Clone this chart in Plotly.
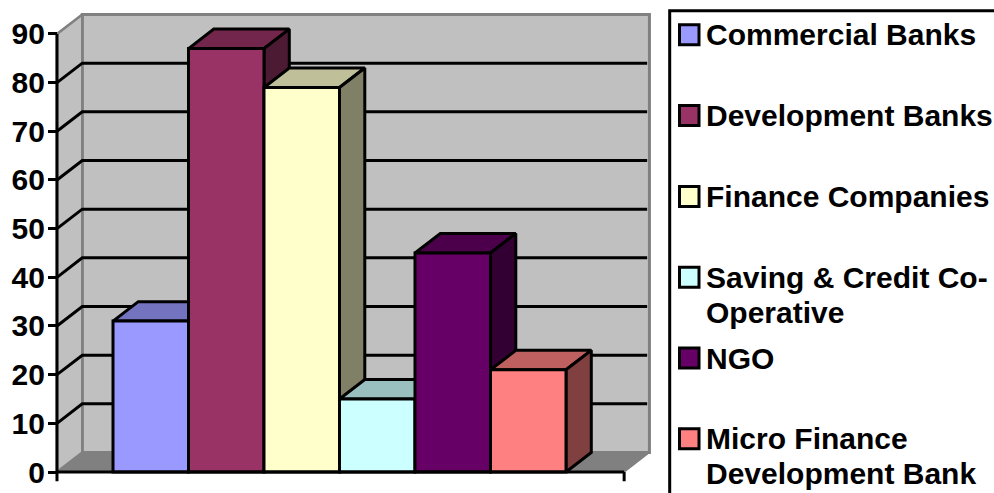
import plotly.graph_objects as go

categories = ["Commercial Banks", "Development Banks", "Finance Companies",
              "Saving & Credit Co-Operative", "NGO", "Micro Finance Development Bank"]
legend_labels = [["Commercial Banks"], ["Development Banks"], ["Finance Companies"],
                 ["Saving & Credit Co-", "Operative"], ["NGO"], ["Micro Finance", "Development Bank"]]
values = [31, 87, 79, 15, 45, 21]
colors = ["#9999FF", "#993366", "#FFFFCC", "#CCFFFF", "#660066", "#FF8080"]
y_ticks = [0, 10, 20, 30, 40, 50, 60, 70, 80, 90]

W, H = 994, 493
PX_X0, PX_XUNIT = 113.0, 75.5     # pixel of bar-slot 0, pixels per slot
PX_Y0, PX_YUNIT = 472.0, 4.867    # pixel of value 0, pixels per value unit
DX, DY = 0.335, 4.0               # 3D depth in axis units
X_L, X_R = -0.742, 6.77           # front floor edge
Y_MAX = 90
FONT = "Liberation Sans"
LW = 3
# plot area in pixels: larger than the drawn chart, so that edge lines are not clipped
AREA_L, AREA_R, AREA_T, AREA_B = 48, 655, 10, 484


def shade(hex_color, k):
    r, g, b = (int(hex_color[i:i + 2], 16) for i in (1, 3, 5))
    return f"rgb({round(r * k)},{round(g * k)},{round(b * k)})"


def poly(xs, ys, fill, line_color="black", width=LW, axis=("x", "y")):
    return go.Scatter(x=xs + xs[:1], y=ys + ys[:1], mode="lines", fill="toself",
                      fillcolor=fill, line=dict(color=line_color, width=width),
                      hoverinfo="skip", showlegend=False, xaxis=axis[0], yaxis=axis[1])


def seg(xs, ys, color="black", width=LW, axis=("x", "y")):
    return go.Scatter(x=xs, y=ys, mode="lines", line=dict(color=color, width=width),
                      hoverinfo="skip", showlegend=False, xaxis=axis[0], yaxis=axis[1])


fig = go.Figure()

# walls and floor
GRAY, WALL = "#808080", "#C0C0C0"
fig.add_trace(poly([X_L + DX, X_R + DX, X_R + DX, X_L + DX], [DY, DY, Y_MAX + DY, Y_MAX + DY], WALL, GRAY, 3))
fig.add_trace(poly([X_L, X_L + DX, X_L + DX, X_L], [0, DY, Y_MAX + DY, Y_MAX], WALL, GRAY, 2.5))
fig.add_trace(poly([X_L, X_R, X_R + DX, X_L + DX], [0, 0, DY, DY], GRAY, GRAY, 1.5))
for t in y_ticks[1:-1]:
    fig.add_trace(seg([X_L, X_L + DX, X_R + DX - 0.03], [t, t + DY, t + DY]))

# bar tops and sides, left to right
for i, (v, c) in enumerate(zip(values, colors)):
    fig.add_trace(poly([i, i + 1, i + 1 + DX, i + DX], [v, v, v + DY, v + DY], shade(c, 0.75)))
    fig.add_trace(poly([i + 1, i + 1 + DX, i + 1 + DX, i + 1], [0, DY, v + DY, v], shade(c, 0.5)))

# front faces on an overlay axis pair, so they cover the faces behind
for i, (name, v, c) in enumerate(zip(categories, values, colors)):
    fig.add_trace(go.Bar(x=[i + 0.5], y=[v], width=[1], name=name,
                         marker=dict(color=c, line=dict(color="black", width=LW)),
                         showlegend=False, xaxis="x2", yaxis="y2"))

# axes lines drawn over everything
over = ("x2", "y2")
fig.add_trace(seg([X_L, X_R], [0, 0], width=LW, axis=over))
fig.add_trace(seg([X_L, X_L], [-1.9, Y_MAX], width=LW, axis=over))
fig.add_trace(seg([X_R, X_R], [-1.9, 0], width=LW, axis=over))

x_range = [(AREA_L - PX_X0) / PX_XUNIT, (AREA_R - PX_X0) / PX_XUNIT]
y_range = [(PX_Y0 - AREA_B) / PX_YUNIT, (PX_Y0 - AREA_T) / PX_YUNIT]
x_dom = [AREA_L / W, AREA_R / W]
y_dom = [1 - AREA_B / H, 1 - AREA_T / H]

shapes, annotations = [], []
shapes.append(dict(type="rect", xref="paper", yref="paper", x0=669.7 / W, x1=1010 / W,
                   y0=1 - 510 / H, y1=1 - 10.7 / H, line=dict(color="black", width=LW),
                   fillcolor="white", layer="below"))
for i, (lines, c) in enumerate(zip(legend_labels, colors)):
    cy = 34.8 + 80.8 * i
    shapes.append(dict(type="rect", xref="paper", yref="paper", x0=679.5 / W, x1=699 / W,
                       y0=1 - (cy + 10) / H, y1=1 - (cy - 10) / H, fillcolor=c,
                       line=dict(color="black", width=LW)))
    for j, line in enumerate(lines):
        annotations.append(dict(text=line, xref="paper", yref="paper", x=705.5 / W,
                                y=1 - (cy + 35 * j) / H, xanchor="left", yanchor="middle",
                                align="left", showarrow=False, borderpad=0, borderwidth=0,
                                font=dict(family=FONT, size=30, color="black", weight="bold")))

fig.update_layout(
    width=W, height=H, margin=dict(l=0, r=0, t=0, b=0, autoexpand=False),
    paper_bgcolor="white", plot_bgcolor="white", showlegend=False, barmode="overlay",
    xaxis=dict(domain=x_dom, range=x_range, visible=False, fixedrange=True),
    yaxis=dict(domain=y_dom, range=y_range, anchor="free", position=(PX_X0 + X_L * PX_XUNIT) / W,
               tickmode="array", tickvals=y_ticks,
               ticktext=[str(t) for t in y_ticks], ticks="outside", ticklen=9, tickwidth=LW,
               tickcolor="black", showgrid=False, zeroline=False, showline=False,
               ticklabelstandoff=-3,
               tickfont=dict(family=FONT, size=30, color="black", weight="bold"), fixedrange=True),
    xaxis2=dict(domain=x_dom, range=x_range, visible=False, overlaying="x", fixedrange=True),
    yaxis2=dict(domain=y_dom, range=y_range, visible=False, overlaying="y", anchor="x2", fixedrange=True),
    shapes=shapes, annotations=annotations,
)

fig.write_html("out.html", post_script="document.body.style.margin='0';document.body.style.overflow='hidden';",
               config={"displayModeBar": False})
